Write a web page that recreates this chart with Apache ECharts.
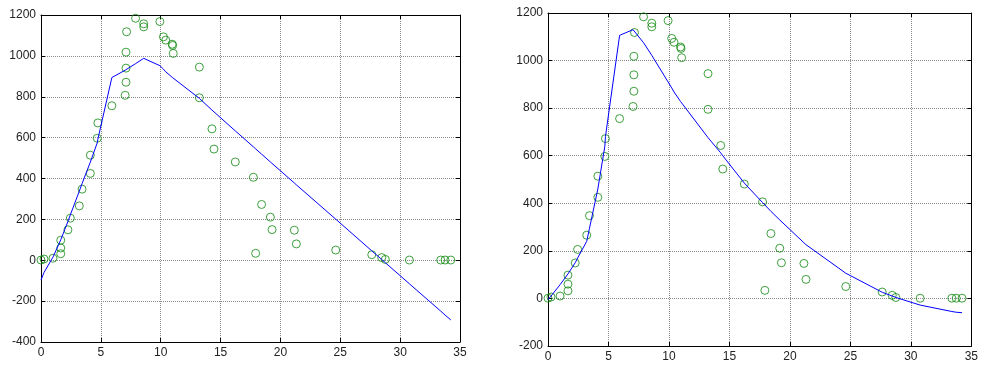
<!DOCTYPE html>
<html>
<head>
<meta charset="utf-8">
<script src="https://cdn.jsdelivr.net/npm/echarts@6/dist/echarts.min.js"></script>
<style>
  html, body { margin: 0; padding: 0; background: #fff; }
  #chart { width: 981px; height: 365px; }
</style>
</head>
<body>
<div id="chart"></div>
<script>
// Measured concentration (green circles), shared by both panels
const obsTime = [0.0, 0.25, 1.0, 1.65, 1.65, 1.65, 2.25, 2.45, 3.2, 3.43, 4.12, 4.12, 4.7, 4.75,
  5.92, 7.03, 7.1, 7.1, 7.1, 7.15, 7.9, 8.58, 8.58, 9.93, 10.23, 10.42, 10.96, 11.0, 11.05,
  13.23, 13.23, 14.28, 14.45, 16.23, 17.74, 17.93, 18.43, 19.16, 19.3, 21.16, 21.33, 24.62,
  27.63, 28.46, 28.76, 30.77, 33.39, 33.75, 34.23];
const obsValue = [1, 6, 10, 32, 60, 98, 149, 206, 266, 348, 425, 514, 597, 672,
  756, 807, 871, 940, 1018, 1118, 1184, 1157, 1142, 1168, 1093, 1077, 1057, 1051, 1012,
  945, 795, 643, 544, 481, 406, 34, 273, 211, 150, 147, 80, 50,
  27, 13, 4, 1, 1, 1, 1];

// Model output evaluated at the sampling times
const modelTime = [0.0, 0.25, 1.0, 1.65, 2.25, 2.45, 3.2, 3.43, 4.12, 4.7, 4.75, 5.92, 7.03, 7.1,
  7.15, 7.9, 8.58, 9.93, 10.23, 10.42, 10.96, 11.0, 11.05, 13.23, 14.28, 14.45, 16.23, 17.74,
  17.93, 18.43, 19.16, 19.3, 21.16, 21.33, 24.62, 27.63, 28.46, 28.76, 30.77, 33.39, 33.75, 34.23];
// first model (left panel)
const modelA = [-97, -60, 15, 100, 190, 222, 338, 375, 480, 575, 592, 894, 930, 933,
  935, 962, 988, 952, 935, 922, 895, 892, 889, 792, 735, 726, 633, 555,
  545, 519, 481, 474, 378, 369, 201, 46, 4, -12, -115, -249, -268, -292];
// second model (right panel)
const modelB = [-5, 10, 58, 103, 150, 170, 240, 295, 460, 640, 680, 1106, 1130, 1134,
  1137, 1075, 1022, 910, 885, 868, 828, 825, 821, 676, 612, 600, 485, 403,
  393, 366, 330, 322, 234, 226, 106, 26, 10, 4, -28, -55, -58, -60];

// x tick range and y ranges for the two panels
const xRange = [0, 35, 5];
const yRangeA = [-400, 1200, 200];
const yRangeB = [-200, 1200, 200];

const pairs = (xs, ys) => xs.map((x, i) => [x, ys[i]]);

const labelStyle = {
  color: '#222', fontSize: 12, fontFamily: 'Liberation Sans, Arial, sans-serif',
  formatter: v => String(v)
};
const gridLine = { show: true, lineStyle: { color: '#8a8a8a', width: 1, type: [1, 1] } };
const boxLine = { show: true, onZero: false, lineStyle: { color: '#000', width: 1 } };
const inTick = { show: true, inside: true, length: 4, lineStyle: { color: '#000' } };

function xAxes(gridIndex) {
  return [
    { type: 'value', gridIndex, position: 'bottom', min: xRange[0], max: xRange[1], interval: xRange[2],
      axisLine: boxLine, axisTick: inTick, splitLine: gridLine,
      axisLabel: Object.assign({ margin: 5 }, labelStyle) },
    { type: 'value', gridIndex, position: 'top', min: xRange[0], max: xRange[1], interval: xRange[2],
      axisLine: boxLine, axisTick: inTick, splitLine: { show: false }, axisLabel: { show: false } }
  ];
}
function yAxes(gridIndex, r) {
  return [
    { type: 'value', gridIndex, position: 'left', min: r[0], max: r[1], interval: r[2],
      axisLine: boxLine, axisTick: inTick, splitLine: gridLine,
      axisLabel: Object.assign({ margin: 5 }, labelStyle) },
    { type: 'value', gridIndex, position: 'right', min: r[0], max: r[1], interval: r[2],
      axisLine: boxLine, axisTick: inTick, splitLine: { show: false }, axisLabel: { show: false } }
  ];
}

const scatterStyle = {
  type: 'scatter', symbol: 'circle', symbolSize: 8,
  itemStyle: { color: 'rgba(0,0,0,0)', borderColor: '#0f880f', borderWidth: 1 },
  emphasis: { disabled: true }, z: 3
};
const lineStyle = {
  type: 'line', symbol: 'none', smooth: false,
  lineStyle: { color: '#0000ff', width: 1 }, emphasis: { disabled: true }, z: 4
};

const chart = echarts.init(document.getElementById('chart'), null, { renderer: 'canvas' });
chart.setOption({
  animation: false,
  backgroundColor: '#fff',
  grid: [
    { left: 41, right: 521, top: 15, bottom: 23, containLabel: false },
    { left: 548, right: 4, top: 13, bottom: 19, containLabel: false }
  ],
  xAxis: [...xAxes(0), ...xAxes(1)],
  yAxis: [...yAxes(0, yRangeA), ...yAxes(1, yRangeB)],
  series: [
    Object.assign({ xAxisIndex: 0, yAxisIndex: 0, data: pairs(obsTime, obsValue) }, scatterStyle),
    Object.assign({ xAxisIndex: 0, yAxisIndex: 0, data: pairs(modelTime, modelA) }, lineStyle),
    Object.assign({ xAxisIndex: 2, yAxisIndex: 2, data: pairs(obsTime, obsValue) }, scatterStyle),
    Object.assign({ xAxisIndex: 2, yAxisIndex: 2, data: pairs(modelTime, modelB) }, lineStyle)
  ]
});
</script>
</body>
</html>
